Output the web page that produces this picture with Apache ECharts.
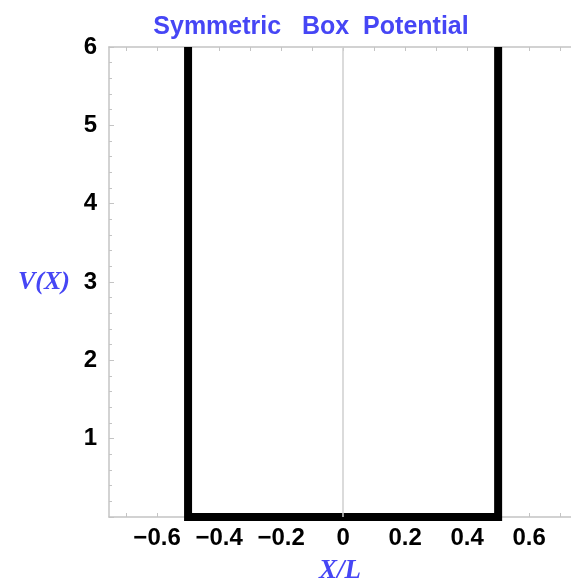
<!DOCTYPE html>
<html>
<head>
<meta charset="utf-8">
<script src="https://cdn.jsdelivr.net/npm/echarts@6/dist/echarts.min.js"></script>
<style>
  html, body { margin: 0; padding: 0; background: #fff; }
  #chartmain { width: 571px; height: 582px; }
</style>
</head>
<body>
<div id="chartmain"></div>
<script>
// potential walls: V(X) along the box outline
var boxX = [-0.5, -0.5, 0.5, 0.5];
var boxV = [6, 0, 0, 6];
// tick labels
var xTicks = [-0.6, -0.4, -0.2, 0, 0.2, 0.4, 0.6];
var xMinorTicks = [-0.7, -0.6, -0.5, -0.4, -0.3, -0.2, -0.1, 0, 0.1, 0.2, 0.3, 0.4, 0.5, 0.6, 0.7];
var yTicks = [1, 2, 3, 4, 5, 6];

var blue = '#4646f5';
var frame = '#c4c4c4';
var labelFont = { color: '#000', fontSize: 24, fontWeight: 'bold', fontFamily: 'Liberation Sans' };

var chart = echarts.init(document.getElementById('chartmain'));

function fmt(v) {
    var s = String(Math.round(v * 10) / 10);
    return s.replace('-', '\u2212');
}

var option = {
    animation: false,
    title: {
        text: 'Symmetric   Box  Potential',
        left: 306,
        textAlign: 'center',
        top: 10,
        textStyle: { color: blue, fontSize: 25, fontWeight: 'bold', fontFamily: 'Liberation Sans' }
    },
    grid: { left: 109, right: 0, top: 47, bottom: 65, containLabel: false, outerBoundsMode: 'none' },
    xAxis: [{
        type: 'value',
        position: 'bottom',
        min: -0.755,
        max: 0.735,
        name: 'X/L',
        nameLocation: 'middle',
        nameGap: 41,
        nameTextStyle: { color: blue, fontSize: 27, fontStyle: 'italic', fontWeight: 'bold', fontFamily: 'Liberation Serif' },
        splitLine: { show: false },
        axisLine: { onZero: false, lineStyle: { color: frame, width: 1.5 } },
        axisTick: { inside: true, length: 4, customValues: xMinorTicks, lineStyle: { color: frame } },
        axisLabel: Object.assign({ customValues: xTicks, margin: 9, formatter: fmt }, labelFont)
    }, {
        type: 'value',
        position: 'top',
        min: -0.755,
        max: 0.735,
        splitLine: { show: false },
        axisLine: { onZero: false, lineStyle: { color: frame, width: 1.5 } },
        axisTick: { inside: true, length: 4, customValues: xMinorTicks, lineStyle: { color: frame } },
        axisLabel: { show: false }
    }],
    yAxis: {
        type: 'value',
        min: 0,
        max: 6,
        interval: 1,
        name: 'V(X)',
        nameLocation: 'middle',
        nameRotate: 0,
        nameGap: 39,
        nameTextStyle: { color: blue, fontSize: 26, fontStyle: 'italic', fontWeight: 'bold', fontFamily: 'Liberation Serif', align: 'right' },
        splitLine: { show: false },
        axisLine: { show: true, onZero: false, lineStyle: { color: frame, width: 1.5 } },
        axisTick: { inside: true, length: 5, lineStyle: { color: frame } },
        minorTick: { show: true, splitNumber: 5, length: 3, lineStyle: { color: frame } },
        axisLabel: Object.assign({
            margin: 12,
            formatter: function (v) { return yTicks.indexOf(v) >= 0 ? String(v) : ''; }
        }, labelFont)
    },
    series: [{
        type: 'line',
        data: boxX.map(function (x, i) { return [x, boxV[i]]; }),
        symbol: 'none',
        lineStyle: { color: '#000', width: 8, join: 'miter', cap: 'butt' },
        markLine: {
            silent: true,
            symbol: 'none',
            label: { show: false },
            lineStyle: { color: '#cfcfcf', width: 1.5, type: 'solid' },
            data: [{ xAxis: 0 }]
        },
        z: 3
    }]
};

chart.setOption(option);
</script>
</body>
</html>
